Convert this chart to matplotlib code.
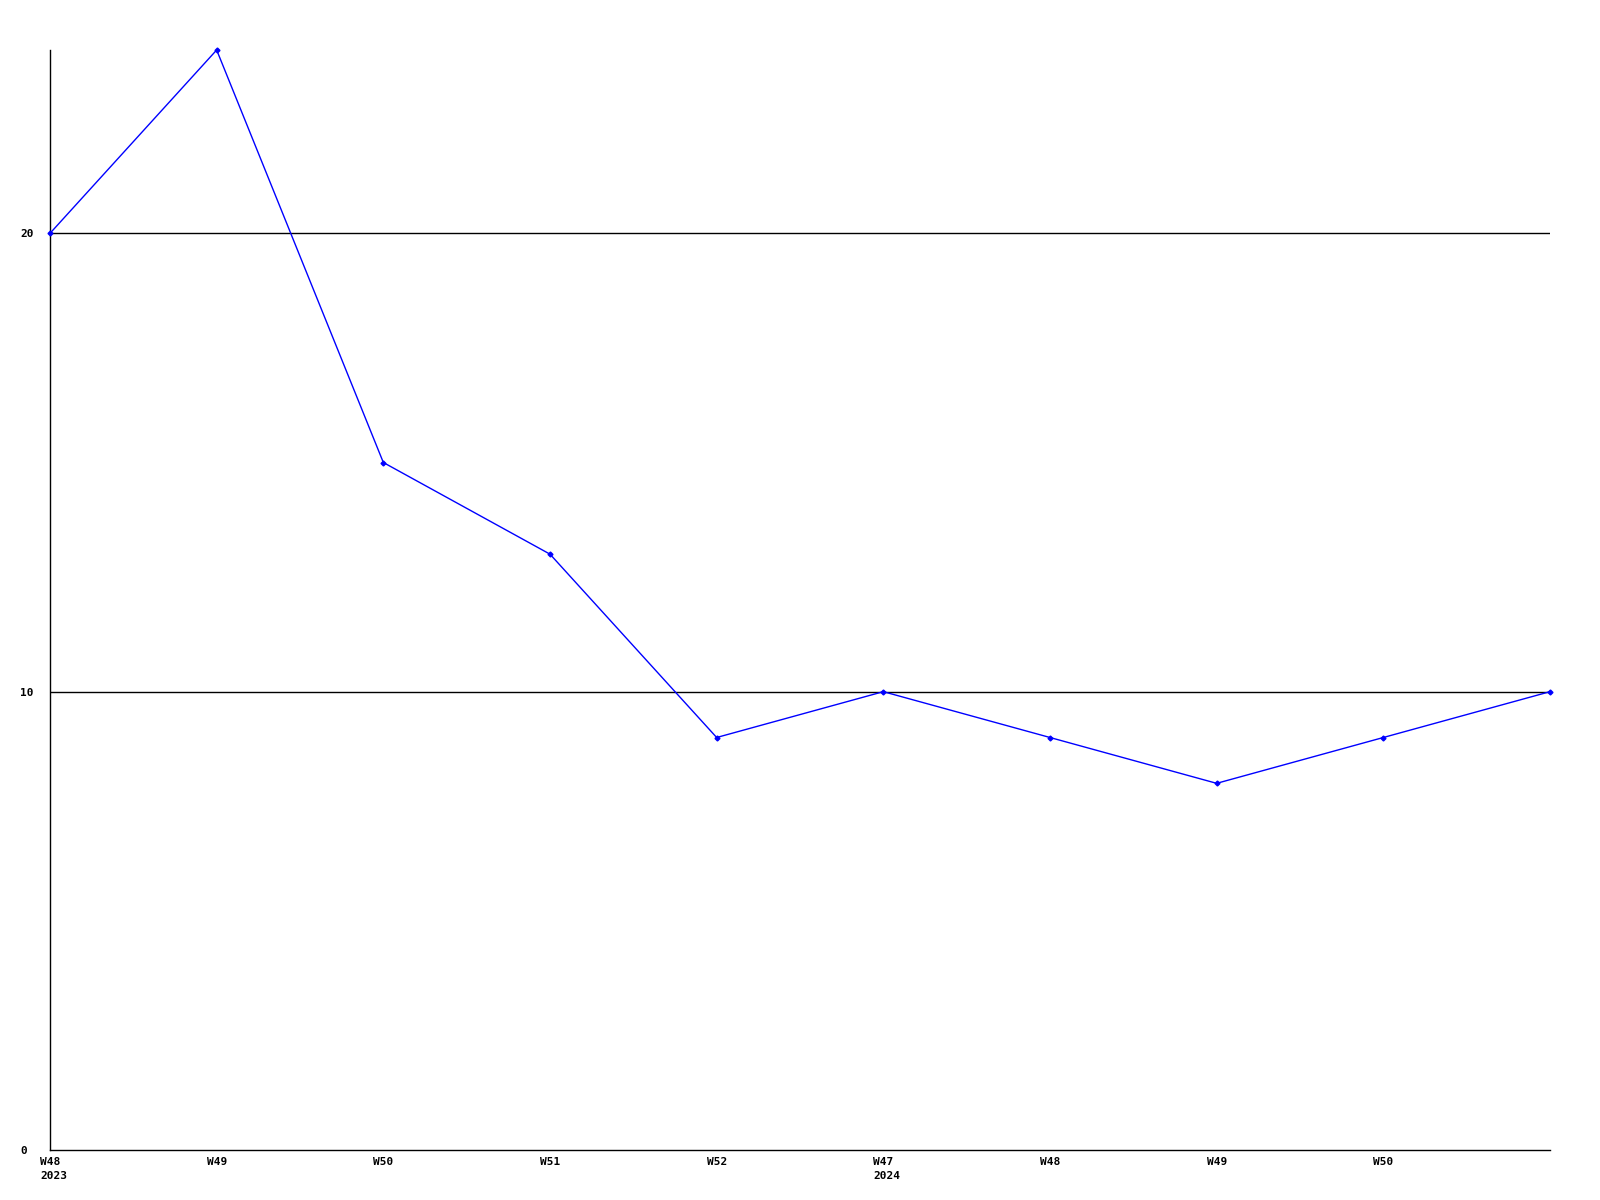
import matplotlib
matplotlib.use("Agg")
import matplotlib.pyplot as plt
from matplotlib.transforms import offset_copy

# weekly values
weeks = ["W48", "W49", "W50", "W51", "W52", "W47", "W48", "W49", "W50", ""]
years = {0: "2023", 5: "2024"}
values = [20, 24, 15, 13, 9, 10, 9, 8, 9, 10]
yticks = [0, 10, 20]

plt.rcParams['font.family'] = ['DejaVu Sans Mono']
plt.rcParams['font.weight'] = 'bold'

fig = plt.figure(figsize=(16, 12), dpi=100)
ax = fig.add_axes([50 / 1600, 50 / 1200, 1500 / 1600, 1100 / 1200])

x = list(range(len(values)))
for y in yticks[1:]:
    ax.axhline(y, color='black', lw=1, zorder=1)
ax.plot(x, values, color='#0000ff', lw=1, marker='D', markersize=2.5, zorder=3, clip_on=False)

ax.set_xlim(0, len(values) - 1)
ax.set_ylim(0, 24)
for s in ['top', 'right']:
    ax.spines[s].set_visible(False)
for s in ['left', 'bottom']:
    ax.spines[s].set_linewidth(1)
    ax.spines[s].set_color('black')

# y labels are left aligned at x=20px
ax.set_yticks(yticks)
ax.set_yticklabels([str(v) for v in yticks], fontsize=8, fontweight='bold', ha='left')
ax.tick_params(axis='y', length=0, pad=21.6)

ax.set_xticks([])
# week labels and year line below, left aligned with week label
for i, w in enumerate(weeks):
    if not w:
        continue
    tr = offset_copy(ax.transData, fig=fig, x=-10, y=-7, units='dots')
    lbl = w + ("\n" + years[i] if i in years else "")
    ax.text(i, 0, lbl, transform=tr, ha='left', va='top', fontsize=8,
            fontweight='bold', linespacing=1.5, clip_on=False)

fig.savefig("out.png", dpi=100, facecolor='white')
